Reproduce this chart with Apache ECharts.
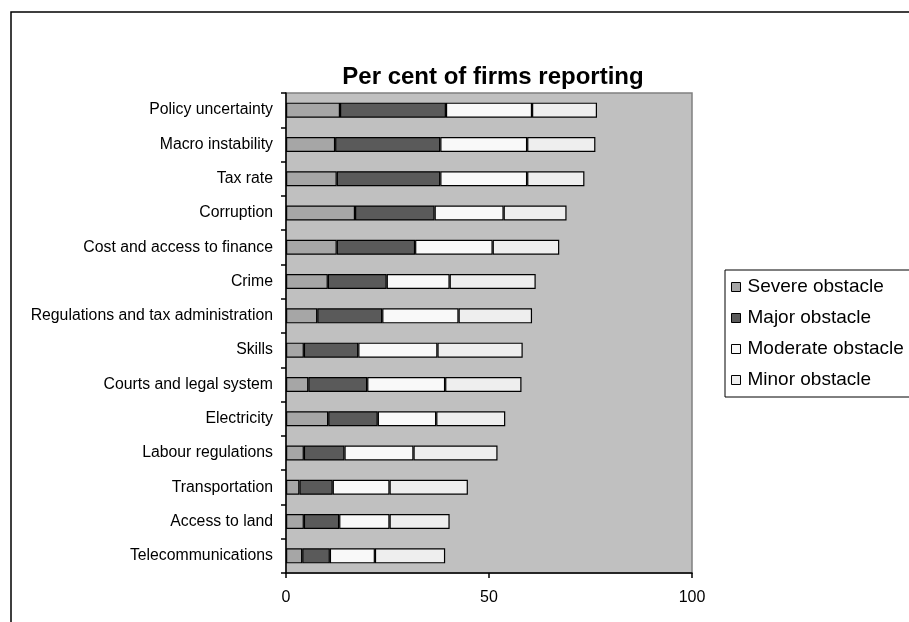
<!DOCTYPE html>
<html>
<head>
<meta charset="utf-8">
<script src="https://cdn.jsdelivr.net/npm/echarts@6/dist/echarts.min.js"></script>
<style>
html,body{margin:0;padding:0;background:#fff;}
#chart{width:909px;height:622px;}
</style>
</head>
<body>
<div id="chart"></div>
<script>
const categories = [
  "Policy uncertainty",
  "Macro instability",
  "Tax rate",
  "Corruption",
  "Cost and access to finance",
  "Crime",
  "Regulations and tax administration",
  "Skills",
  "Courts and legal system",
  "Electricity",
  "Labour regulations",
  "Transportation",
  "Access to land",
  "Telecommunications"
];
const severe   = [13.3, 12.1, 12.5, 17.0, 12.5, 10.3, 7.7, 4.4, 5.5, 10.4, 4.4, 3.3, 4.4, 4.0];
const major    = [26.1, 25.9, 25.5, 19.6, 19.3, 14.5, 16.0, 13.4, 14.5, 12.2, 10.0, 8.2, 8.7, 6.8];
const moderate = [21.2, 21.4, 21.4, 17.0, 19.1, 15.5, 18.8, 19.5, 19.2, 14.4, 17.0, 14.0, 12.4, 11.1];
const minor    = [16.0, 16.8, 14.1, 15.5, 16.4, 21.2, 18.1, 21.0, 18.8, 17.0, 20.7, 19.3, 14.8, 17.3];
const seriesNames = ["Severe obstacle", "Major obstacle", "Moderate obstacle", "Minor obstacle"];
const xTicks = [0, 50, 100];

const FONT = "'Liberation Sans', Arial, sans-serif";
const colors = ["#a6a6a6", "#5a5a5a", "#f9f9f9", "#eeeeee"];
const datasets = [severe, major, moderate, minor];

const chart = echarts.init(document.getElementById('chart'), null, {renderer: 'canvas'});
chart.setOption({
  animation: false,
  backgroundColor: '#ffffff',
  title: {
    text: 'Per cent of firms reporting',
    left: 488,
    textAlign: 'center',
    top: 60,
    textStyle: {fontFamily: FONT, fontSize: 24, fontWeight: 'bold', color: '#000'}
  },
  graphic: [
    {type: 'rect', shape: {x: 11, y: 12, width: 1000, height: 800},
     style: {fill: 'none', stroke: '#000', lineWidth: 1.5}, z: 0, silent: true}
  ],
  legend: {
    orient: 'vertical',
    left: 725,
    top: 270,
    padding: [7, 40, 7, 6],
    borderColor: '#000',
    borderWidth: 1,
    backgroundColor: '#fff',
    itemWidth: 9,
    itemHeight: 9,
    itemGap: 11,
    icon: 'rect',
    itemStyle: {borderColor: '#000', borderWidth: 1},
    textStyle: {fontFamily: FONT, fontSize: 19, color: '#000', lineHeight: 20, padding: [0, 0, 0, 2]},
    data: seriesNames
  },
  grid: {
    left: 286, right: 217, top: 93, bottom: 49,
    show: true, backgroundColor: '#c0c0c0', borderColor: '#808080', borderWidth: 1.5
  },
  xAxis: {
    type: 'value', min: xTicks[0], max: xTicks[xTicks.length - 1], interval: 50,
    splitLine: {show: false},
    axisLine: {show: true, lineStyle: {color: '#000', width: 1.5}},
    axisTick: {show: true, length: 5, lineStyle: {color: '#000', width: 1.5}},
    axisLabel: {fontFamily: FONT, fontSize: 16, color: '#000', margin: 17}
  },
  yAxis: {
    type: 'category', data: categories, inverse: true,
    axisLine: {show: true, lineStyle: {color: '#000', width: 1.5}},
    axisTick: {show: true, length: 5, lineStyle: {color: '#000', width: 1.5}},
    axisLabel: {fontFamily: FONT, fontSize: 15.8, color: '#000', margin: 13}
  },
  series: datasets.map((d, i) => ({
    name: seriesNames[i],
    type: 'bar',
    stack: 'total',
    barWidth: 15,
    data: d,
    itemStyle: {color: colors[i], borderColor: '#000', borderWidth: 1.2}
  }))
});
</script>
</body>
</html>
